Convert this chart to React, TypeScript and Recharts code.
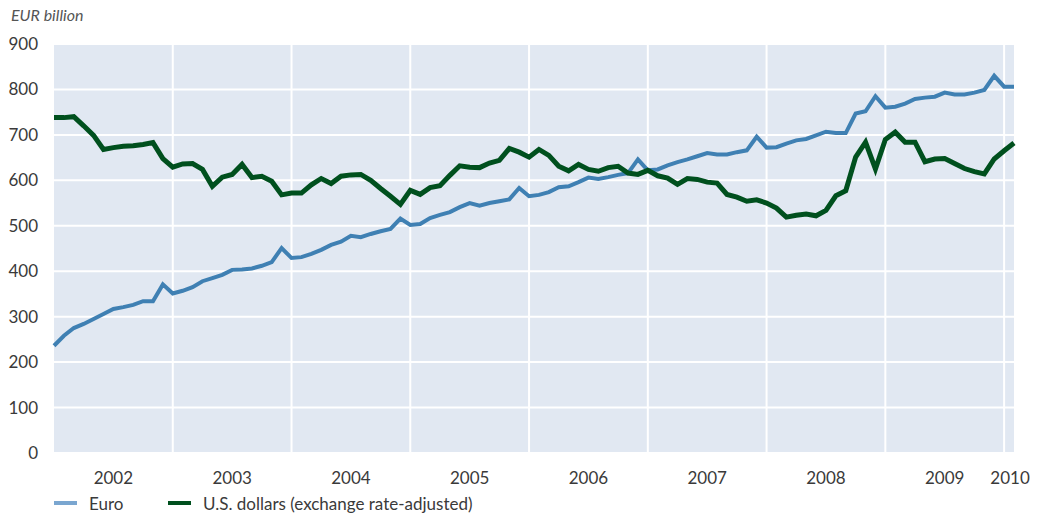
import React from 'react';
import { LineChart, Line, XAxis, YAxis, CartesianGrid, Legend, ReferenceLine } from 'recharts';

// monthly stock, Jan 2002 .. Feb 2010 (EUR billion)
const euro = [
  236, 258, 275, 284, 295, 306, 317, 321, 326, 334, 334, 371,
  351, 357, 365, 378, 385, 392, 403, 404, 406, 412, 420, 451,
  429, 431, 438, 447, 458, 465, 478, 475, 482, 488, 493, 516,
  502, 504, 517, 524, 530, 541, 550, 544, 550, 554, 558, 583,
  565, 568, 574, 585, 587, 596, 606, 603, 607, 612, 616, 646,
  622, 624, 633, 640, 646, 653, 660, 657, 657, 662, 666, 696,
  672, 673, 681, 688, 691, 699, 707, 704, 704, 747, 752, 785,
  760, 762, 769, 779, 782, 784, 793, 789, 789, 793, 799, 830,
  806, 806,
];

const usd = [
  738, 738, 740, 720, 699, 668, 672, 675, 676, 679, 683, 648,
  629, 636, 637, 624, 587, 607, 613, 635, 606, 609, 598, 568,
  572, 572, 590, 604, 593, 609, 612, 613, 600, 582, 565, 547,
  578, 569, 584, 588, 611, 632, 629, 628, 638, 644, 670, 662,
  651, 668, 655, 631, 621, 635, 624, 620, 628, 631, 616, 613,
  622, 610, 605, 591, 604, 602, 596, 594, 569, 563, 554, 557,
  550, 539, 519, 523, 526, 522, 534, 566, 577, 651, 684, 625,
  690, 706, 684, 684, 641, 647, 648, 637, 626, 619, 614, 647,
  665, 682,
];

// year labels sit mid-year; 2010 just after its boundary
const yearTicks = [6, 18, 30, 42, 54, 66, 78, 90, 96.6];
const yearLabels = ['2002', '2003', '2004', '2005', '2006', '2007', '2008', '2009', '2010'];
const yearBreaks = [12, 24, 36, 48, 60, 72, 84, 96];
const yTicks = [0, 100, 200, 300, 400, 500, 600, 700, 800, 900];

const data = euro.map((e, i) => ({ i, euro: e, usd: usd[i] }));

const EURO_COLOR = '#3f80b3';
const USD_COLOR = '#00501e';
const FONT = 'Lato, "Open Sans", sans-serif';

function LegendRow() {
  const items = [
    { label: 'Euro', color: '#7aa6d0', width: 114 },
    { label: 'U.S. dollars (exchange rate-adjusted)', color: USD_COLOR, width: 400 },
  ];
  return (
    <div style={{ display: 'flex', alignItems: 'center', height: 28, paddingLeft: 54, fontFamily: FONT, fontSize: 17, color: '#3a3a3a', whiteSpace: 'nowrap' }}>
      {items.map((it) => (
        <div key={it.label} style={{ display: 'flex', alignItems: 'center', width: it.width, flex: 'none' }}>
          <span style={{ display: 'inline-block', width: 23, height: 4, background: it.color, marginRight: 12 }} />
          <span>{it.label}</span>
        </div>
      ))}
    </div>
  );
}

export default function App() {
  return (
    <div style={{ position: 'absolute', left: 0, top: 0, width: 1037, height: 517, background: '#fff' }}>
      <div style={{ position: 'absolute', left: 11, top: 5, fontFamily: FONT, fontStyle: 'italic', fontSize: 16, color: '#555' }}>
        EUR billion
      </div>
      <LineChart width={1037} height={517} data={data} margin={{ top: 44, right: 23, bottom: 0, left: 0 }}>
        <CartesianGrid vertical={false} stroke="#fff" strokeWidth={2} fill="#e1e8f2" fillOpacity={1} />
        {yearBreaks.map((x) => (
          <ReferenceLine key={x} x={x} stroke="#fff" strokeWidth={2} />
        ))}
        <XAxis
          dataKey="i"
          type="number"
          domain={[0, 97]}
          ticks={yearTicks}
          interval={0}
          tickFormatter={(v: number) => yearLabels[yearTicks.indexOf(v)]}
          axisLine={false}
          tickLine={false}
          tickSize={0}
          tickMargin={19}
          height={36}
          tick={{ fill: '#3a3a3a', fontSize: 17, fontFamily: FONT }}
        />
        <YAxis
          domain={[0, 900]}
          ticks={yTicks}
          interval={0}
          axisLine={false}
          tickLine={false}
          tickSize={0}
          tickMargin={16}
          width={54}
          tick={{ fill: '#3a3a3a', fontSize: 17, fontFamily: FONT }}
        />
        <Legend verticalAlign="bottom" align="left" wrapperStyle={{ width: 1037 }} content={() => <LegendRow />} />
        <Line type="linear" dataKey="euro" name="Euro" stroke={EURO_COLOR} strokeWidth={4} dot={false} isAnimationActive={false} />
        <Line type="linear" dataKey="usd" name="U.S. dollars (exchange rate-adjusted)" stroke={USD_COLOR} strokeWidth={5} dot={false} isAnimationActive={false} />
      </LineChart>
    </div>
  );
}
